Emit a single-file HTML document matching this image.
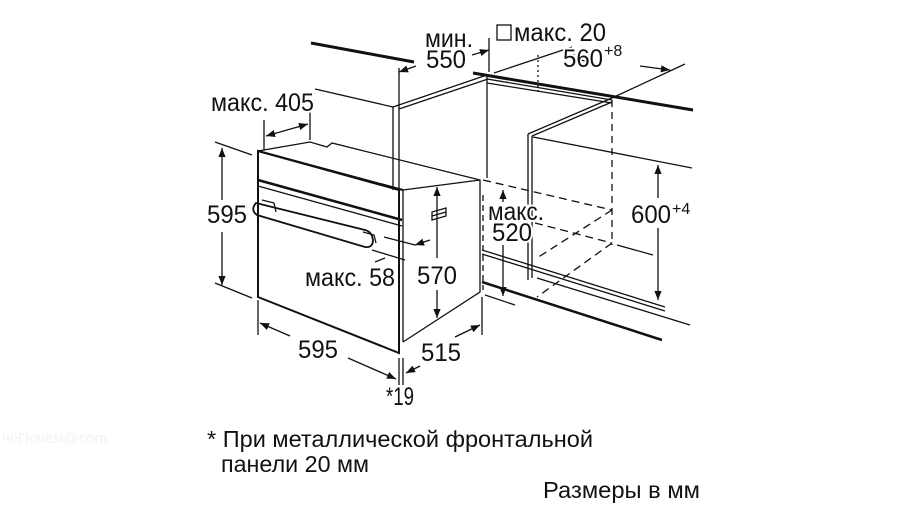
<!DOCTYPE html>
<html><head><meta charset="utf-8"><style>
html,body{margin:0;padding:0;background:#fff;width:900px;height:506px;overflow:hidden}
svg{display:block}
text{font-family:"Liberation Sans Narrow","Liberation Sans",sans-serif;fill:#111}
</style></head><body>
<svg width="900" height="506" viewBox="0 0 900 506" xmlns="http://www.w3.org/2000/svg">
<defs>
<marker id="a" viewBox="0 0 10 10" refX="10" refY="5" markerWidth="7" markerHeight="7" orient="auto-start-reverse"><path d="M0,1 L10,5 L0,9 z" fill="#111"/></marker>
</defs>
<g stroke="#111" fill="none" stroke-width="1.3">
<line x1="311" y1="43" x2="414" y2="62" stroke-width="3"/>
<line x1="473" y1="73" x2="693" y2="110" stroke-width="3"/>
<line x1="393" y1="107" x2="393" y2="190"/><line x1="399" y1="107" x2="399" y2="190"/>
<line x1="393" y1="107" x2="487" y2="75"/><line x1="399" y1="109" x2="488" y2="79"/>
<line x1="487" y1="77" x2="487" y2="178"/>
<line x1="487" y1="79" x2="612" y2="100"/><line x1="487" y1="83" x2="612" y2="103"/>
<line x1="315" y1="89" x2="393" y2="107"/>
<line x1="612" y1="98" x2="528" y2="134"/><line x1="612" y1="102" x2="532" y2="136"/>
<line x1="528" y1="134" x2="528" y2="280"/><line x1="532" y1="136" x2="532" y2="278"/>
<line x1="533" y1="137" x2="692" y2="168"/>
<line x1="612" y1="100" x2="612" y2="245" stroke-dasharray="7,5"/>
<line x1="538" y1="55" x2="538" y2="92" stroke-dasharray="2,3"/>
<line x1="483" y1="180" x2="612" y2="210" stroke-dasharray="8,5"/>
<line x1="535" y1="223" x2="612" y2="243" stroke-dasharray="8,5"/>
<line x1="612" y1="210" x2="537" y2="258" stroke-dasharray="8,5"/>
<line x1="612" y1="243" x2="537" y2="297" stroke-dasharray="8,5"/>
<line x1="617" y1="245" x2="653" y2="255"/>
<line x1="483" y1="195" x2="483" y2="290" stroke-dasharray="6,4"/>
<line x1="482" y1="250" x2="665" y2="307"/><line x1="482" y1="254" x2="665" y2="311"/>
<line x1="482" y1="282" x2="662" y2="340" stroke-width="2.5"/>
<line x1="537" y1="278" x2="690" y2="325"/>
<line x1="485" y1="295" x2="515" y2="305"/>
<path d="M258,151 L258,297 L399,353 L399,190 Z" stroke-width="2"/>
<line x1="403" y1="190" x2="403" y2="342"/>
<line x1="258" y1="151" x2="403" y2="190" stroke-width="2"/>
<path d="M258,151 L310,142 L327,147 L332,143 L480,180 L480,292 L403,342" />
<line x1="403" y1="190" x2="480" y2="180"/>
<line x1="258" y1="180" x2="402" y2="220" stroke-width="2.5"/>
<line x1="258" y1="186" x2="402" y2="226"/>
<path d="M256,203 Q250,210 257,215 L365,247 Q373,248 373,240 L372,236 Q370,231 365,230 Z" stroke-width="1.8"/>
<path d="M262,200 l12,3 l2,9 M363,232 l11,3 l2,8" />
<path d="M432,212 l14,-4 l0,8 l-14,4 z M432,216 l14,-4"/>
<line x1="222" y1="148" x2="222" y2="200" marker-start="url(#a)"/>
<line x1="222" y1="232" x2="222" y2="285" marker-end="url(#a)"/>
<line x1="215" y1="142" x2="252" y2="155"/><line x1="215" y1="283" x2="252" y2="298"/>
<line x1="264" y1="120" x2="264" y2="150"/><line x1="310" y1="112" x2="310" y2="140"/>
<line x1="266" y1="136" x2="308" y2="124" marker-start="url(#a)" marker-end="url(#a)"/>
<line x1="399" y1="68" x2="399" y2="107"/><line x1="489" y1="38" x2="489" y2="72"/>
<line x1="399" y1="72" x2="416" y2="66" marker-start="url(#a)"/>
<line x1="472" y1="55" x2="489" y2="50" marker-end="url(#a)"/>
<line x1="494" y1="73" x2="572" y2="47"/>
<line x1="565" y1="55" x2="588" y2="62" marker-start="url(#a)"/>
<line x1="640" y1="66" x2="670" y2="70" marker-end="url(#a)"/>
<line x1="612" y1="98" x2="685" y2="64"/>
<line x1="658" y1="165" x2="658" y2="198" marker-start="url(#a)"/>
<line x1="658" y1="228" x2="658" y2="300" marker-end="url(#a)"/>
<line x1="437" y1="187" x2="437" y2="258" marker-start="url(#a)"/>
<line x1="437" y1="290" x2="437" y2="318" marker-end="url(#a)"/>
<line x1="503" y1="190" x2="503" y2="202" marker-start="url(#a)"/>
<line x1="503" y1="245" x2="503" y2="296" marker-end="url(#a)"/>
<line x1="258" y1="300" x2="258" y2="335"/><line x1="399" y1="358" x2="399" y2="385"/><line x1="403" y1="358" x2="403" y2="385"/>
<line x1="482" y1="297" x2="482" y2="335"/>
<line x1="260" y1="323" x2="290" y2="336" marker-start="url(#a)"/>
<line x1="348" y1="358" x2="396" y2="379" marker-end="url(#a)"/>
<line x1="406" y1="373" x2="420" y2="366" marker-start="url(#a)"/>
<line x1="455" y1="337" x2="480" y2="325" marker-end="url(#a)"/>
<line x1="384" y1="237" x2="415" y2="245"/><line x1="372" y1="250" x2="405" y2="260"/>
<line x1="415" y1="245" x2="430" y2="240" marker-start="url(#a)"/>
<line x1="375" y1="262" x2="385" y2="258"/>
</g>
<g font-size="25" style="paint-order:stroke" stroke="#fff" stroke-width="4">
<text x="425" y="47" textLength="48" lengthAdjust="spacingAndGlyphs">мин.</text>
<text x="426" y="68" textLength="40" lengthAdjust="spacingAndGlyphs">550</text>
<text x="514" y="41" textLength="92" lengthAdjust="spacingAndGlyphs">макс. 20</text>
<text x="563" y="67" textLength="40" lengthAdjust="spacingAndGlyphs">560</text>
<text x="604" y="56" font-size="16">+8</text>
<text x="211" y="111" textLength="103" lengthAdjust="spacingAndGlyphs">макс. 405</text>
<text x="207" y="223" textLength="40" lengthAdjust="spacingAndGlyphs">595</text>
<text x="488" y="220" textLength="56" lengthAdjust="spacingAndGlyphs">макс.</text>
<text x="492" y="241" textLength="40" lengthAdjust="spacingAndGlyphs">520</text>
<text x="631" y="223" textLength="40" lengthAdjust="spacingAndGlyphs">600</text>
<text x="672" y="214" font-size="16">+4</text>
<text x="417" y="284" textLength="40" lengthAdjust="spacingAndGlyphs">570</text>
<text x="305" y="286" textLength="90" lengthAdjust="spacingAndGlyphs">макс. 58</text>
<text x="298" y="358" textLength="40" lengthAdjust="spacingAndGlyphs">595</text>
<text x="421" y="361" textLength="40" lengthAdjust="spacingAndGlyphs">515</text>
<text x="386" y="405" textLength="28" lengthAdjust="spacingAndGlyphs">*19</text>
</g>
<rect x="497" y="25" width="14" height="15" fill="none" stroke="#111" stroke-width="1.3"/>
<g font-size="23">
<text x="207" y="447" textLength="386" lengthAdjust="spacingAndGlyphs">* При металлической фронтальной</text>
<text x="221" y="472" textLength="148" lengthAdjust="spacingAndGlyphs">панели 20 мм</text>
<text x="543" y="498" textLength="157" lengthAdjust="spacingAndGlyphs">Размеры в мм</text>
</g>
<text x="2" y="443" font-size="15" style="fill:#f2f2f2">чёПочём@com</text>
</svg>
</body></html>
